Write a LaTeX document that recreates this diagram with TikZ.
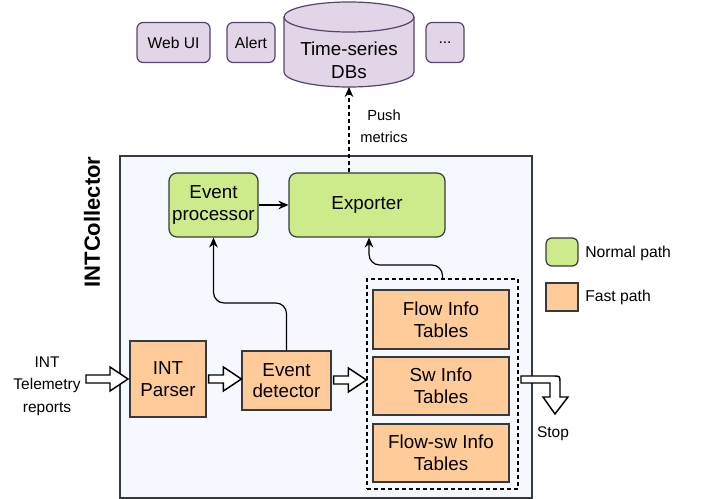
\documentclass[tikz,border=0pt]{standalone}
\usepackage{fontspec}
\setmainfont{Liberation Sans}
\usetikzlibrary{arrows.meta,calc}
\definecolor{cgreen}{HTML}{CDEB8B}
\definecolor{corange}{HTML}{FFCC99}
\definecolor{cpurple}{HTML}{E1D5E7}
\definecolor{cpurpled}{HTML}{56456A}
\definecolor{cstroke}{HTML}{36393D}
\definecolor{cbg}{HTML}{F5F8FE}
\tikzset{
  box/.style={draw=cstroke,line width=0.9pt,align=center,inner sep=0pt,
     font=\fontsize{14.1}{16.3}\selectfont},
  greenbox/.style={box,fill=cgreen,rounded corners=6pt},
  orangebox/.style={box,fill=corange},
  purplebox/.style={draw=cpurpled,line width=0.9pt,fill=cpurple,rounded corners=4.5pt,
     align=center,inner sep=0pt,font=\fontsize{11.7}{14}\selectfont},
  lbl/.style={align=center,inner sep=0pt,font=\fontsize{11.6}{17}\selectfont},
  conn/.style={draw=black,line width=0.9pt,-{Stealth[length=7.5pt,width=6.5pt,inset=2.5pt]}},
  dashline/.style={dash pattern=on 3pt off 2.25pt},
  blockarr/.style={draw=black,fill=white,line width=1.1pt,line join=miter},
}
\newcommand\hblock[2]{\draw[blockarr] let \p1=(#1), \p2=(#2) in
  (\x1,\y1+3pt) -- (\x2-13.5pt,\y1+3pt) -- (\x2-13.5pt,\y1+9pt) -- (\x2,\y1)
  -- (\x2-13.5pt,\y1-9pt) -- (\x2-13.5pt,\y1-3pt) -- (\x1,\y1-3pt) -- cycle;}
\begin{document}
\begin{tikzpicture}[x=0.75pt,y=-0.75pt]
\useasboundingbox (0,0) rectangle (701,499);
% top row
\node[purplebox,minimum width=54.75pt,minimum height=30pt] (webui) at (173.5,42.5) {Web UI};
\node[purplebox,minimum width=36pt,minimum height=30pt] (alert) at (251,42.5) {Alert};
\node[purplebox,minimum width=28.5pt,minimum height=30pt] (dots) at (445,42.5) {...};
% cylinder
\filldraw[draw=cpurpled,fill=cpurple,line width=0.9pt]
  (284,17) -- (284,72) arc[start angle=180,end angle=360,x radius=48.75pt,y radius=11.25pt]
  -- (414,17) arc[start angle=0,end angle=180,x radius=48.75pt,y radius=11.25pt] -- cycle;
\draw[draw=cpurpled,line width=0.9pt]
  (284,17) arc[start angle=180,end angle=360,x radius=48.75pt,y radius=11.25pt];
\node[align=center,inner sep=0pt,font=\fontsize{14.1}{17.5}\selectfont] (db) at (349,60) {Time-series\\DBs};
\coordinate (dbbottom) at (349,87);
% container
\draw[draw=cstroke,line width=0.9pt,fill=cbg] (120,156) rectangle (532,498);
\node[rotate=90,inner sep=0pt,font=\fontsize{16.5}{18}\selectfont\bfseries] (title) at (92,222) {INTCollector};
% green boxes
\node[greenbox,minimum width=66.75pt,minimum height=48pt] (proc) at (213.5,205) {Event\\processor};
\node[greenbox,minimum width=117pt,minimum height=48pt] (exp) at (367,205) {\raisebox{-1pt}{Exporter}};
% orange boxes
\node[orangebox,minimum width=57pt,minimum height=57pt] (parser) at (168,379) {INT\\Parser};
\node[orangebox,minimum width=66.75pt,minimum height=44.25pt] (det) at (286.5,380.5) {Event\\detector};
\node[draw=black,dashline,line width=0.9pt,minimum width=113.25pt,minimum height=157.5pt,inner sep=0pt] (group) at (442.5,384) {};
\node[orangebox,minimum width=102pt,minimum height=44.25pt] (flow) at (441,319.5) {Flow Info\\Tables};
\node[orangebox,minimum width=102pt,minimum height=43.5pt] (sw) at (441,386) {Sw Info\\Tables};
\node[orangebox,minimum width=102pt,minimum height=43.5pt] (fsw) at (441,453) {Flow-sw Info\\Tables};
% legend
\node[greenbox,minimum width=24pt,minimum height=21pt,rounded corners=4.5pt] (lgn) at (562,252) {};
\node[lbl,anchor=west,font=\fontsize{11.8}{14}\selectfont] (lgnt) at (585,253) {Normal path};
\node[orangebox,minimum width=24pt,minimum height=21pt] (lgf) at (562,297) {};
\node[lbl,anchor=west,font=\fontsize{11.8}{14}\selectfont] (lgft) at (585,297) {Fast path};
% labels
\node[lbl] (telem) at (47,386) {INT\\Telemetry\\reports};
\node[lbl,font=\fontsize{11}{16.5}\selectfont] (push) at (384,126) {Push\\metrics};
\node[lbl] (stop) at (553,434) {Stop};
% connectors
\draw[conn] (proc.east) -- (exp.west);
\draw[conn,rounded corners=8pt] (det.north) -- (det.north |- 0,303) -- (proc.south |- 0,303) -- (proc.south);
\draw[conn,rounded corners=8pt] (group.north) -- (group.north |- 0,265) -- ([xshift=1.5pt]exp.south |- 0,265) -- ([xshift=1.5pt]exp.south);
\draw[conn,dashline] (dbbottom |- exp.north) -- (dbbottom);
% block arrows
\coordinate (a1s) at (86,379);
\coordinate (a1e) at (128,379);
\hblock{a1s}{a1e}
\coordinate (a2s) at ([xshift=1.5pt]parser.east);
\coordinate (a2e) at (det.west |- parser.east);
\hblock{a2s}{a2e}
\coordinate (a3s) at ([xshift=1.5pt]det.east |- 0,380);
\coordinate (a3e) at (group.west |- 0,380);
\hblock{a3s}{a3e}
\draw[blockarr] (521,376) -- (553,376) .. controls (560,376) .. (560,383) -- (560,397) -- (568,397)
  -- (555,414) -- (543,397) -- (550,397) -- (550,383) -- (521,383) -- cycle;
\end{tikzpicture}
\end{document}
